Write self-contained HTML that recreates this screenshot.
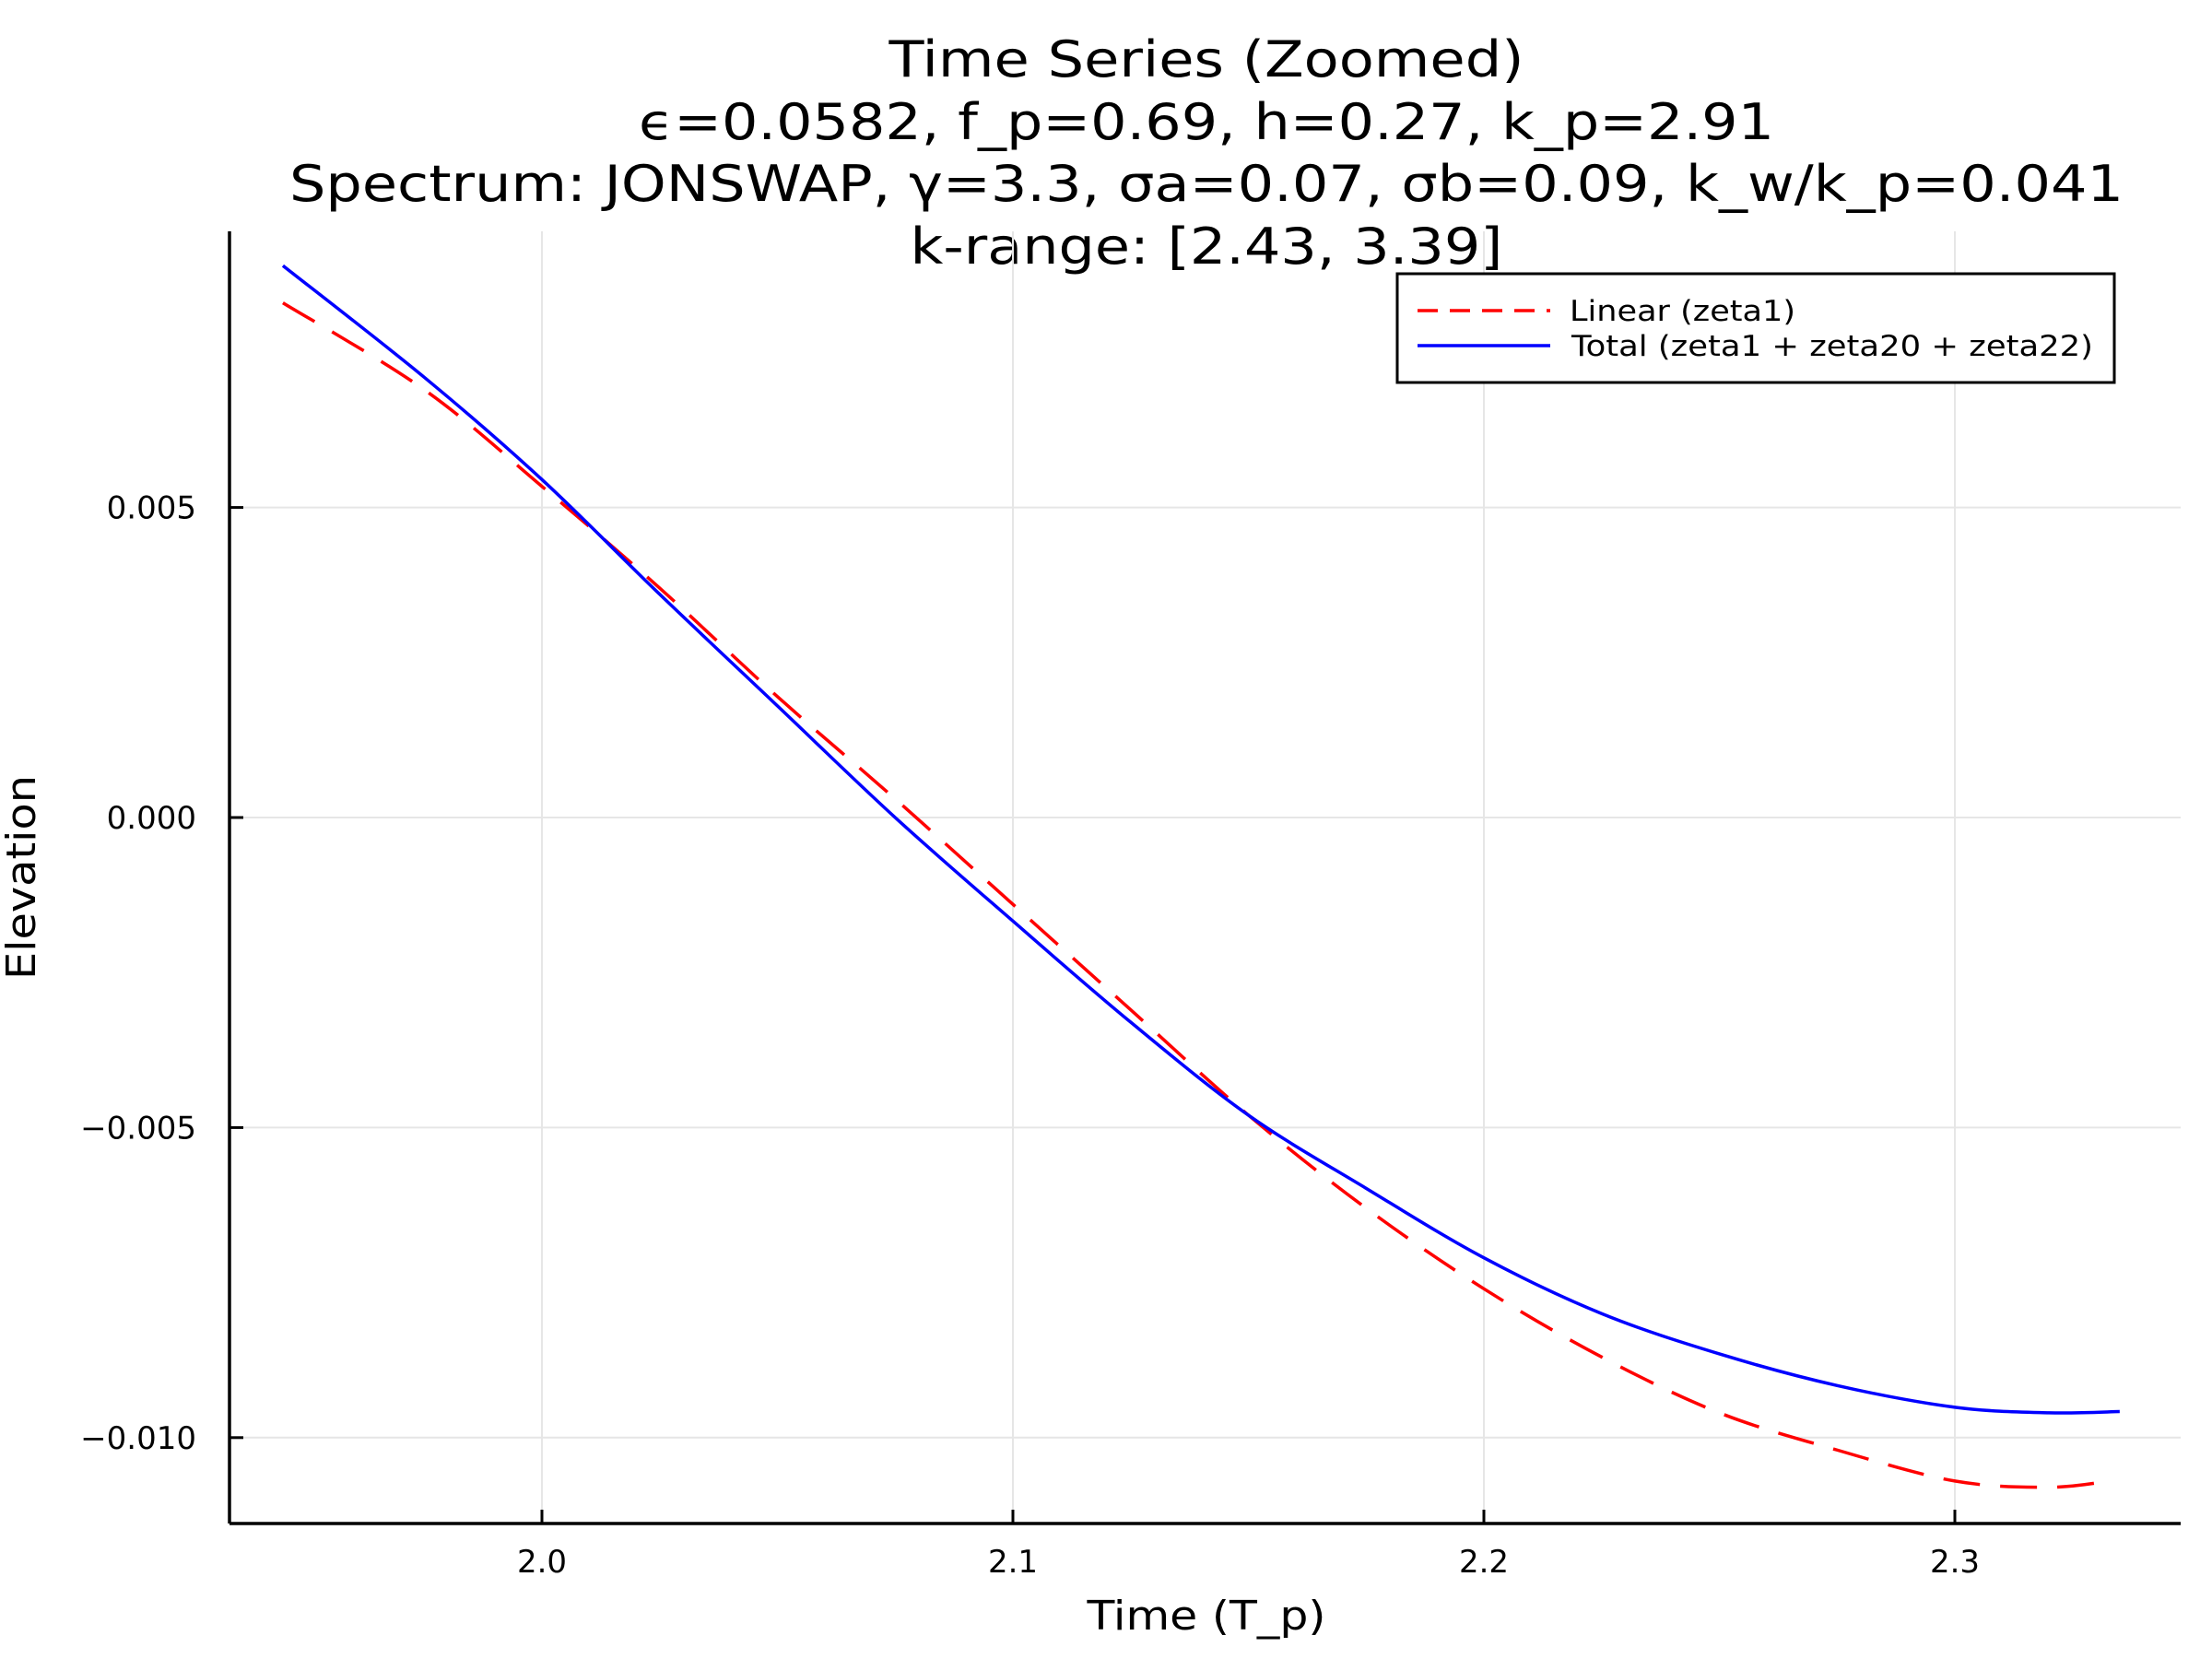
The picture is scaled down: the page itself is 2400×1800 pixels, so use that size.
<!DOCTYPE html>
<html><head><meta charset="utf-8"><style>
html,body{margin:0;padding:0;background:#fff;}
svg{display:block;font-family:"DejaVu Sans","Liberation Sans",sans-serif;}
</style></head><body>
<svg id="chart" width="2400" height="1800" viewBox="0 0 2400 1800" xmlns="http://www.w3.org/2000/svg">
<rect width="2400" height="1800" fill="#fff"/>
<g font-size="54" text-anchor="middle" fill="#000">
<text x="1309" y="83" textLength="689" lengthAdjust="spacingAndGlyphs">Time Series (Zoomed)</text>
<text x="1309" y="151" textLength="1232" lengthAdjust="spacingAndGlyphs">ϵ=0.0582, f_p=0.69, h=0.27, k_p=2.91</text>
<text x="1309" y="218" textLength="1990" lengthAdjust="spacingAndGlyphs">Spectrum: JONSWAP, γ=3.3, σa=0.07, σb=0.09, k_w/k_p=0.041</text>
<text x="1309" y="286" textLength="643" lengthAdjust="spacingAndGlyphs">k-range: [2.43, 3.39]</text>
</g>
<g id="grid"></g>
<g id="series"></g>
<g id="axes"></g>
<text x="1309" y="1768" font-size="44" text-anchor="middle" textLength="259" lengthAdjust="spacingAndGlyphs">Time (T_p)</text>
<text transform="translate(38,952) rotate(-90)" font-size="44" text-anchor="middle" textLength="222" lengthAdjust="spacingAndGlyphs">Elevation</text>
<g>
<rect x="1516" y="297" width="778" height="118" fill="#fff" stroke="#000" stroke-width="3"/>
<line x1="1538" y1="337" x2="1682" y2="337" stroke="#f00" stroke-width="3.5" stroke-dasharray="22,13"/>
<text x="1703" y="348" font-size="31" textLength="245" lengthAdjust="spacingAndGlyphs">Linear (zeta1)</text>
<line x1="1538" y1="375" x2="1682" y2="375" stroke="#00f" stroke-width="3.5"/>
<text x="1705" y="386" font-size="31" textLength="566" lengthAdjust="spacingAndGlyphs">Total (zeta1 + zeta20 + zeta22)</text>
</g>
</svg>
<script>
const xTicks = [2.0, 2.1, 2.2, 2.3];
const xTickLabels = ["2.0", "2.1", "2.2", "2.3"];
const yTicks = [0.005, 0.0, -0.005, -0.010];
const yTickLabels = ["0.005", "0.000", "\u22120.005", "\u22120.010"];
const times = [1.945, 1.975, 2.0, 2.025, 2.05, 2.075, 2.1, 2.125, 2.15, 2.175, 2.2, 2.225, 2.25, 2.275, 2.3, 2.32, 2.335];
const totalValues = [0.0089, 0.0071, 0.00545, 0.0036, 0.0018, 0.0000, -0.00167, -0.0033, -0.0048, -0.00598, -0.0071, -0.0080, -0.00865, -0.00916, -0.00951, -0.0096, -0.00958];
const linearValues = [0.0083, 0.0069, 0.00534, 0.0037, 0.00195, 0.0003, -0.0014, -0.0031, -0.0048, -0.0063, -0.0076, -0.0087, -0.0096, -0.0102, -0.0107, -0.0108, -0.0107];

const NS = "http://www.w3.org/2000/svg";
const L = 249, R = 2366, T = 251, B = 1653;
function xs(t){ return 588 + (t - 2.0) * 5110; }
function ys(v){ return 887 - v * 67280; }
function mk(tag, attrs, parent){
  const e = document.createElementNS(NS, tag);
  for (const k in attrs) e.setAttribute(k, attrs[k]);
  parent.appendChild(e); return e;
}
const grid = document.getElementById('grid');
const axes = document.getElementById('axes');
const series = document.getElementById('series');
xTicks.forEach((t, i) => {
  const g = mk('line', {x1: xs(t), x2: xs(t), y1: T, y2: B, stroke: '#e6e6e6', 'stroke-width': 2}, grid);
  
  
  const tk = mk('line', {x1: xs(t), x2: xs(t), y1: B, y2: B - 15, stroke: '#000', 'stroke-width': 3}, axes);
  
  
  const lb = mk('text', {x: xs(t), y: 1706, 'font-size': 34, 'text-anchor': 'middle'}, axes);
  lb.textContent = xTickLabels[i];
  
  
});
yTicks.forEach((v, i) => {
  const g = mk('line', {x1: L, x2: R, y1: ys(v), y2: ys(v), stroke: '#e6e6e6', 'stroke-width': 2}, grid);
  
  
  const tk = mk('line', {x1: L, x2: L + 15, y1: ys(v), y2: ys(v), stroke: '#000', 'stroke-width': 3}, axes);
  
  
  const lb = mk('text', {x: 213, y: ys(v) + 12, 'font-size': 34, 'text-anchor': 'end'}, axes);
  lb.textContent = yTickLabels[i];
  
  
});
const xa = mk('line', {x1: L, x2: R, y1: B, y2: B, stroke: '#000', 'stroke-width': 3.5}, axes);


const ya = mk('line', {x1: L, x2: L, y1: T, y2: B, stroke: '#000', 'stroke-width': 3.5}, axes);



function smoothPath(xv, yv){
  const p = xv.map((t, i) => [xs(t), ys(yv[i])]);
  let d = 'M' + p[0][0] + ',' + p[0][1];
  for (let i = 0; i < p.length - 1; i++){
    const p0 = p[Math.max(0, i - 1)], p1 = p[i], p2 = p[i + 1], p3 = p[Math.min(p.length - 1, i + 2)];
    const c1 = [p1[0] + (p2[0] - p0[0]) / 6, p1[1] + (p2[1] - p0[1]) / 6];
    const c2 = [p2[0] - (p3[0] - p1[0]) / 6, p2[1] - (p3[1] - p1[1]) / 6];
    d += ' C' + c1 + ' ' + c2 + ' ' + p2;
  }
  return d;
}
const lin = mk('path', {d: smoothPath(times.slice(0, 16).concat([2.333]), linearValues), fill: 'none', stroke: '#f00', 'stroke-width': 3.5, 'stroke-dasharray': '40,22'}, series);


const tot = mk('path', {d: smoothPath(times, totalValues), fill: 'none', stroke: '#00f', 'stroke-width': 3.5}, series);


</script>
</body></html>
